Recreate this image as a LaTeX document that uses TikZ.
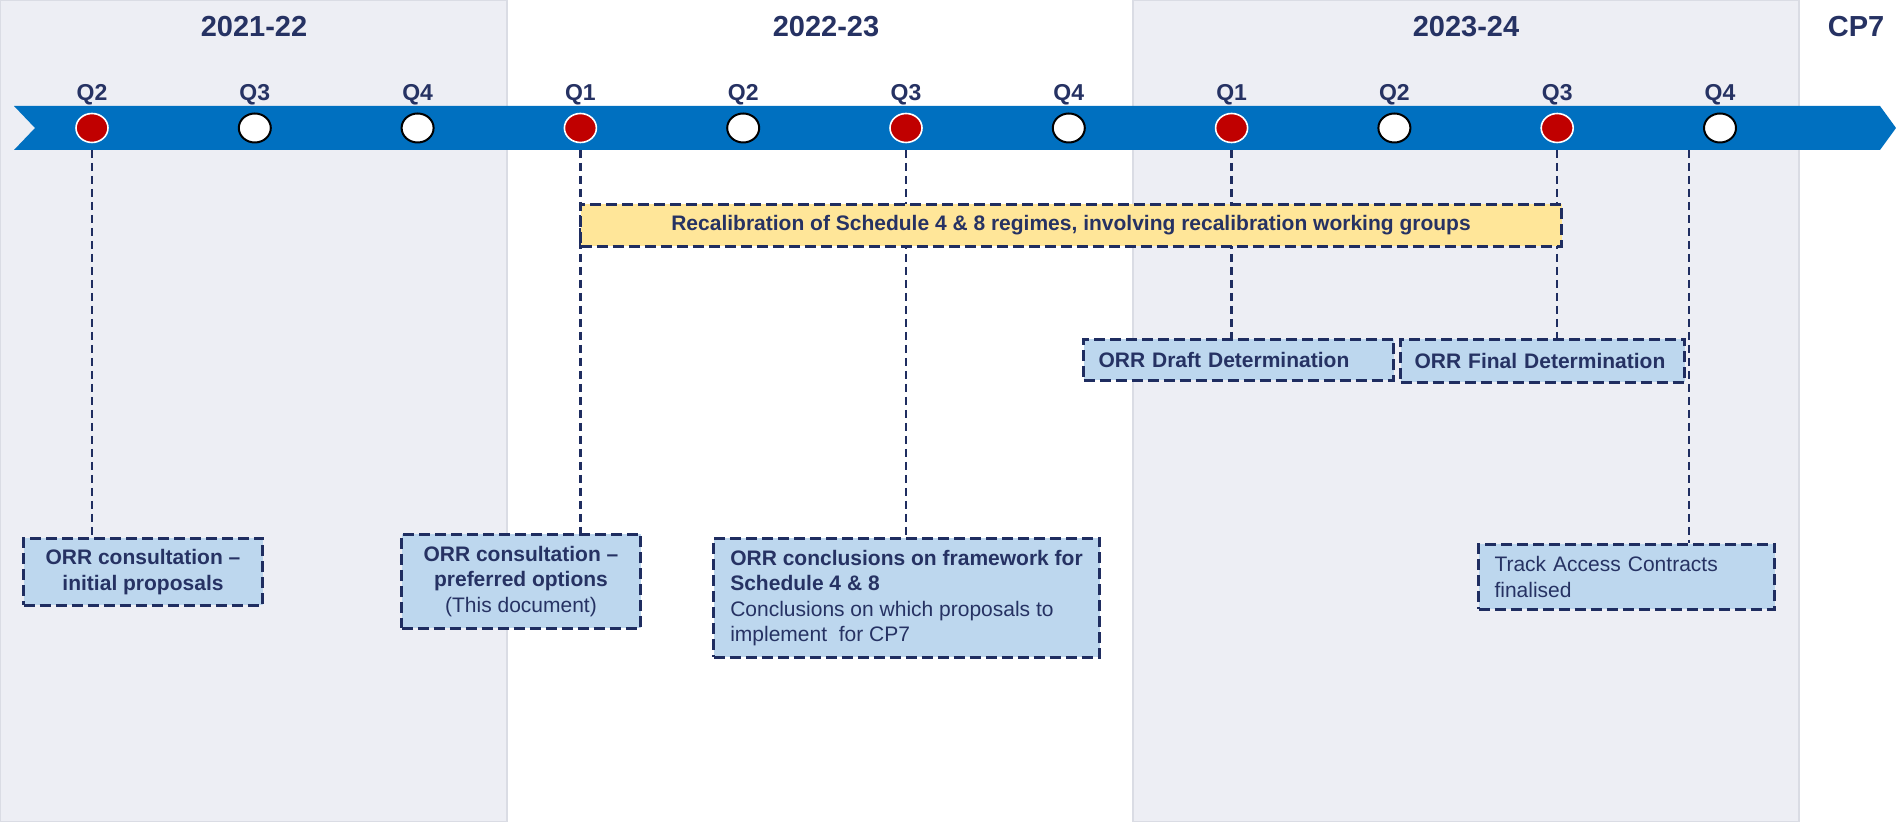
\documentclass[tikz,border=0pt]{standalone}
\usepackage{fontspec}
\setmainfont{Liberation Sans}
\usetikzlibrary{shapes.geometric}
\definecolor{navy}{RGB}{38,50,99}
\definecolor{bordernavy}{RGB}{31,45,96}
\definecolor{boxblue}{RGB}{189,215,238}
\definecolor{recalyellow}{RGB}{255,230,153}
\definecolor{bandblue}{RGB}{0,112,192}
\definecolor{qred}{RGB}{192,0,0}
\definecolor{bggray}{RGB}{237,238,244}
\definecolor{bgedge}{RGB}{218,220,228}
\pgfdeclarelayer{bg}
\pgfdeclarelayer{connlayer}
\pgfsetlayers{bg,connlayer,main}
\begin{document}
\begin{tikzpicture}[x=0.5pt,y=-0.5pt,
  conn/.style={draw=bordernavy, line width=1.2pt, dash pattern=on 4pt off 2.5pt},
  boxbase/.style={draw=bordernavy, line width=1.5pt, dash pattern=on 5.5pt off 2.5pt,
    text=navy, font=\fontsize{10.5}{12.75}\selectfont, inner sep=0pt, anchor=north west},
  bluebox/.style={boxbase, fill=boxblue},
  yellowbox/.style={boxbase, fill=recalyellow},
  yearlab/.style={text=navy, font=\bfseries\fontsize{14.5}{17}\selectfont, anchor=base, inner sep=0pt},
  qlab/.style={text=navy, font=\bfseries\fontsize{11.5}{14}\selectfont, anchor=base, inner sep=0pt},
  qdot/.style={ellipse, minimum width=16pt, minimum height=14.5pt, inner sep=0pt},
  redq/.style={qdot, fill=qred, draw=white, line width=0.8pt},
  whiteq/.style={qdot, fill=white, draw=black, line width=1pt}
]
\useasboundingbox (0,0) rectangle (1896,822);
\begin{pgfonlayer}{bg}
  \fill[white] (0,0) rectangle (1896,822);
  \draw[bgedge, fill=bggray, line width=0.6pt] (0.5,0) rectangle (507,822);
  \draw[bgedge, fill=bggray, line width=0.6pt] (1133,0) rectangle (1799,822);
\end{pgfonlayer}

% year labels
\node[yearlab] (y1) at (254,36.5) {2021-22};
\node[yearlab] (y2) at (826,36.5) {2022-23};
\node[yearlab] (y3) at (1466,36.5) {2023-24};
\node[yearlab] (y4) at (1856,36.5) {CP7};

% timeline band
\fill[bandblue] (14,106) -- (1880,106) -- (1896,128) -- (1880,150) -- (14,150) -- (35,128) -- cycle;
\coordinate (bandbot) at (0,150);

% quarter markers
\foreach \i/\xx/\lab/\sty in {0/92/Q2/redq,1/254.8/Q3/whiteq,2/417.6/Q4/whiteq,3/580.4/Q1/redq,
  4/743.2/Q2/whiteq,5/906/Q3/redq,6/1068.8/Q4/whiteq,7/1231.6/Q1/redq,8/1394.4/Q2/whiteq,
  9/1557.2/Q3/redq,10/1720/Q4/whiteq} {
  \node[\sty] (c\i) at (\xx,128) {};
  \node[qlab] (ql\i) at (\xx,101) {\lab};
}

% recalibration bar
\node[yellowbox, minimum width=490.5pt, minimum height=21pt, align=center] (recal) at (579,203)
  {\bfseries Recalibration of Schedule 4 \& 8 regimes, involving recalibration working groups};

% milestone boxes
\node[bluebox, minimum width=119.5pt, minimum height=33.5pt, align=center] (b1) at (22,537)
  {\bfseries ORR consultation –\\\bfseries initial proposals};
\node[bluebox, minimum width=119.5pt, minimum height=47pt, align=center] (b2) at (400,533)
  {\bfseries ORR consultation –\\\bfseries preferred options\\(This document)};
\node[bluebox, minimum width=193pt, minimum height=59.5pt, align=left] (b3) at (712,537)
  {\bfseries ORR conclusions on framework for\\\bfseries Schedule 4 \& 8\\Conclusions on which proposals to\\implement \ for CP7};
\node[bluebox, minimum width=148pt, minimum height=32.5pt, inner xsep=8pt, text width=132pt, align=left] (b4) at (1477,543)
  {Track Access Contracts\\finalised};
\node[bluebox, minimum width=155pt, minimum height=20.5pt, inner xsep=7.5pt, text width=140pt, align=left] (draft) at (1082,338)
  {\bfseries ORR Draft Determination};
\node[bluebox, minimum width=142pt, minimum height=21.5pt, inner xsep=7pt, text width=128pt, align=left] (final) at (1399,338)
  {\bfseries ORR Final Determination};

\coordinate (q4line) at (1689,150);

% connectors
\begin{pgfonlayer}{connlayer}
  \draw[conn] (c0 |- bandbot) -- (c0 |- b1.north);
  \draw[conn] (c3 |- bandbot) -- (c3 |- b2.north);
  \draw[conn] (c5 |- bandbot) -- (c5 |- b3.north);
  \draw[conn] (c7 |- bandbot) -- (c7 |- draft.north);
  \draw[conn] (c9 |- bandbot) -- (c9 |- final.north);
  \draw[conn] (q4line) -- (q4line |- b4.north);
\end{pgfonlayer}
\end{tikzpicture}
\end{document}
